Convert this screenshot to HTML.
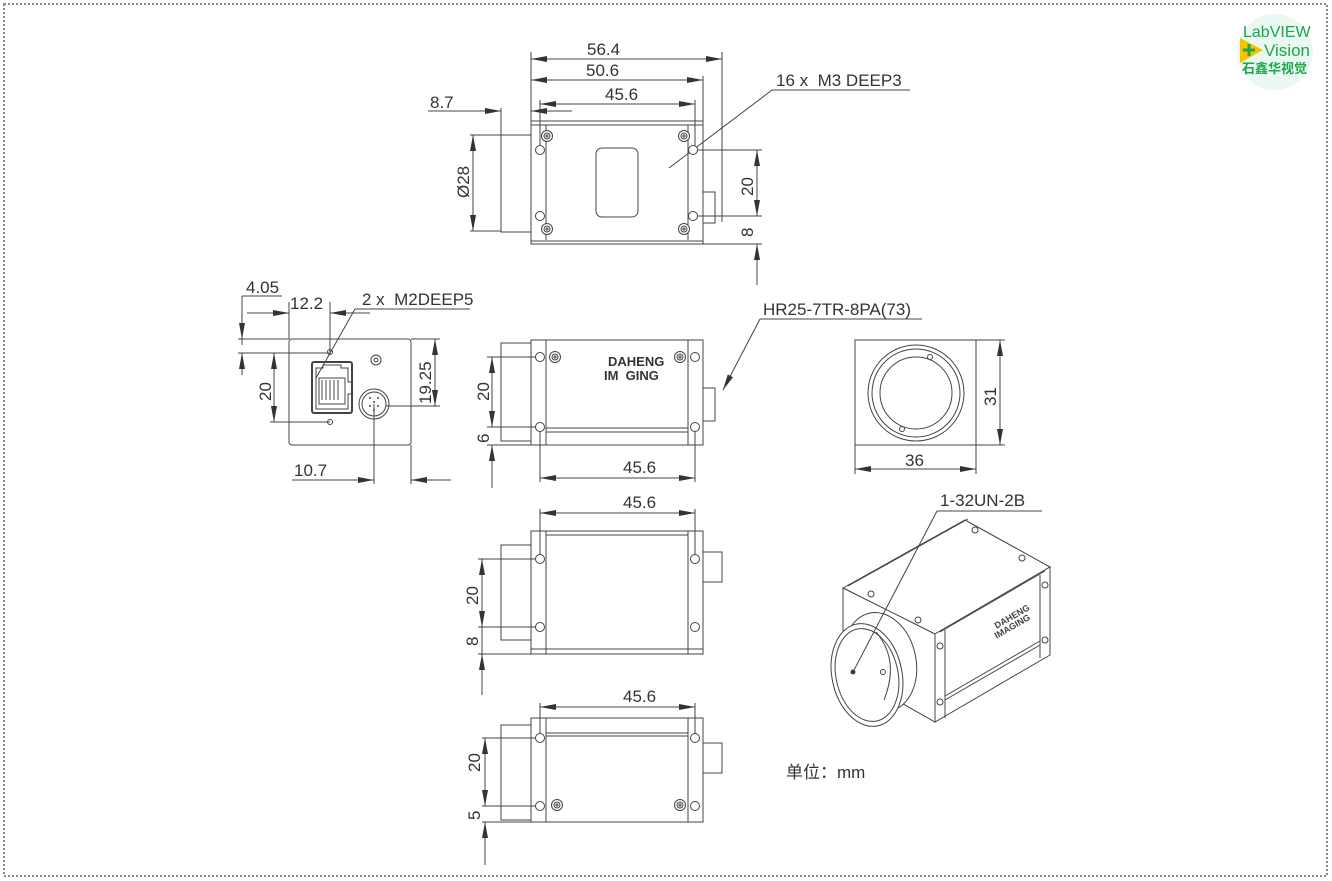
<!DOCTYPE html>
<html><head><meta charset="utf-8"><style>
html,body{margin:0;padding:0;background:#fff;}
svg{display:block;}
text{font-family:"Liberation Sans","Noto Sans CJK SC",sans-serif;fill:#333;}
</style></head><body>
<svg width="1332" height="881" viewBox="0 0 1332 881" xmlns="http://www.w3.org/2000/svg">
<defs>
<marker id="a" viewBox="0 0 16 6" refX="16" refY="3" markerWidth="16" markerHeight="6" markerUnits="userSpaceOnUse" orient="auto-start-reverse"><path d="M0,0L16,3L0,6z" fill="#333"/></marker>
<g id="hole"><circle r="4.5" fill="#fff" stroke="#444" stroke-width="1"/></g>
<g id="scr"><circle r="5.5" fill="#fff" stroke="#444"/><circle r="3" fill="none" stroke="#444"/><path d="M-2,0H2M0,-2V2" stroke="#444"/></g>
</defs>
<rect x="4" y="4" width="1323" height="872" fill="none" stroke="#888" stroke-width="2" stroke-dasharray="2,2"/>

<g stroke="#444" stroke-width="1" fill="none">
<rect x="531" y="121" width="172" height="123"/>
<line x1="531" y1="125" x2="703" y2="125"/><line x1="531" y1="241" x2="703" y2="241"/>
<path d="M546,125V240M688,125V240"/>
<rect x="501" y="135" width="30" height="97"/>
<rect x="703" y="192" width="12" height="31"/>
<rect x="596" y="148" width="42" height="69" rx="6"/>
<line x1="531" y1="59" x2="722" y2="59" marker-start="url(#a)" marker-end="url(#a)"/>
<line x1="531" y1="80" x2="703" y2="80" marker-start="url(#a)" marker-end="url(#a)"/>
<line x1="540" y1="104" x2="695" y2="104" marker-start="url(#a)" marker-end="url(#a)"/>
<path d="M531,52V121M722,52V222M703,76V121M540,100V148M695,100V148"/>
<line x1="428" y1="111" x2="501" y2="111" marker-end="url(#a)"/>
<line x1="572" y1="111" x2="531" y2="111" marker-end="url(#a)"/>
<path d="M501,108V135"/>
<line x1="473" y1="135" x2="473" y2="231" marker-start="url(#a)" marker-end="url(#a)"/>
<path d="M470,135H501M470,231H501"/>
<path d="M697,150H762M697,216H762M703,244H762"/>
<line x1="757" y1="150" x2="757" y2="216" marker-start="url(#a)" marker-end="url(#a)"/>
<line x1="757" y1="285" x2="757" y2="244" marker-end="url(#a)"/>
<path d="M772,90H910M772,90L669,168"/>

<rect x="289" y="339" width="122" height="106" rx="3"/>
<rect x="312" y="362" width="40" height="51" rx="2" stroke-width="2"/>
<path d="M316,368h7v-3h18v3h7v14h4v12h-4v15h-32z"/>
<path d="M319,378h26v26h-26z M322,380v20M326,380v20M330,380v20M334,380v20M338,380v20"/>
<circle cx="374" cy="404" r="15"/><circle cx="374" cy="404" r="12"/>
<circle cx="376" cy="360" r="5"/><circle cx="376" cy="360" r="2"/>
<circle cx="330" cy="352" r="2.5"/><circle cx="330" cy="422" r="2.5"/>
<path d="M242,296H282M242,296V345"/>
<line x1="242" y1="320" x2="242" y2="339" marker-end="url(#a)"/>
<line x1="242" y1="375" x2="242" y2="353" marker-end="url(#a)"/>
<path d="M238,339H289M238,353H330"/>
<path d="M289,302V339M330,302V352"/>
<line x1="247" y1="313" x2="289" y2="313" marker-end="url(#a)"/>
<line x1="370" y1="313" x2="330" y2="313" marker-end="url(#a)"/>
<path d="M355,309H470M355,309L316,378"/>
<line x1="274" y1="353" x2="274" y2="422" marker-start="url(#a)" marker-end="url(#a)"/>
<path d="M270,422H330"/>
<path d="M411,339H440M386,406H440"/>
<line x1="435" y1="339" x2="435" y2="406" marker-start="url(#a)" marker-end="url(#a)"/>
<path d="M374,404V484M411,445V484"/>
<line x1="292" y1="480" x2="374" y2="480" marker-end="url(#a)"/>
<line x1="451" y1="480" x2="411" y2="480" marker-end="url(#a)"/>

<rect x="531" y="340" width="172" height="105"/>
<path d="M546,340V445M688,340V445M546,428H688M546,432H688"/>
<rect x="501" y="343" width="30" height="98"/>
<rect x="703" y="388" width="12" height="33"/>
<line x1="492" y1="357" x2="492" y2="427" marker-start="url(#a)" marker-end="url(#a)"/>
<path d="M487,357H540M487,427H540M487,445H531"/>
<line x1="492" y1="488" x2="492" y2="445" marker-end="url(#a)"/>
<path d="M540,427V482M695,427V482"/>
<line x1="540" y1="478" x2="695" y2="478" marker-start="url(#a)" marker-end="url(#a)"/>
<path d="M760,319H922"/>
<line x1="760" y1="319" x2="723" y2="390" marker-end="url(#a)"/>

<rect x="855" y="340" width="121" height="105"/>
<circle cx="916" cy="393" r="48"/><circle cx="916" cy="393" r="44"/><circle cx="916" cy="393" r="36"/>
<circle cx="930" cy="357" r="2.5"/><circle cx="902" cy="429" r="2.5"/>
<path d="M976,340H1005M976,445H1005M855,445V474M976,445V474"/>
<line x1="1000" y1="340" x2="1000" y2="445" marker-start="url(#a)" marker-end="url(#a)"/>
<line x1="855" y1="469" x2="976" y2="469" marker-start="url(#a)" marker-end="url(#a)"/>

<rect x="531" y="531" width="172" height="123"/>
<path d="M546,531V654M688,531V654M546,535H688M531,649H703"/>
<rect x="501" y="545" width="30" height="95"/>
<rect x="703" y="552" width="19" height="30"/>
<path d="M540,509V559M695,509V559"/>
<line x1="540" y1="513" x2="695" y2="513" marker-start="url(#a)" marker-end="url(#a)"/>
<path d="M478,559H540M478,627H540M478,654H531"/>
<line x1="482" y1="559" x2="482" y2="627" marker-start="url(#a)" marker-end="url(#a)"/>
<line x1="482" y1="695" x2="482" y2="654" marker-end="url(#a)"/>
<path d="M482,627V654"/>

<rect x="531" y="718" width="172" height="104"/>
<path d="M546,718V822M688,718V822M546,733H688M546,736H688"/>
<rect x="501" y="725" width="30" height="95"/>
<rect x="703" y="743" width="19" height="30"/>
<path d="M540,703V738M695,703V738"/>
<line x1="540" y1="707" x2="695" y2="707" marker-start="url(#a)" marker-end="url(#a)"/>
<path d="M482,738H540M482,806H540M482,822H531"/>
<line x1="485" y1="738" x2="485" y2="806" marker-start="url(#a)" marker-end="url(#a)"/>
<line x1="485" y1="865" x2="485" y2="822" marker-end="url(#a)"/>

<path d="M843,588L965,520L1050,567L935,634Z" fill="#fff"/>
<path d="M935,634L1050,567L1050,655L935,722Z" fill="#fff"/>
<path d="M843,588L935,634L935,722L843,670Z" fill="#fff"/>
<path d="M848,586L968,519M940,632L1045,571M945,630V718M1040,575V658M945,700L1040,645M945,696L1040,641"/>
<circle cx="871" cy="594" r="3"/><circle cx="918" cy="620" r="3"/><circle cx="975" cy="530" r="3"/><circle cx="1022" cy="558" r="3"/>
<circle cx="940" cy="646" r="3"/><circle cx="940" cy="702" r="3"/><circle cx="1045" cy="585" r="3"/><circle cx="1045" cy="640" r="3"/>
<ellipse cx="880" cy="662" rx="36" ry="50" transform="rotate(-12 880 662)" fill="#fff"/>
<ellipse cx="867" cy="675" rx="35" ry="52" transform="rotate(-12 867 675)" fill="#fff"/>
<ellipse cx="867" cy="675" rx="31" ry="47" transform="rotate(-12 867 675)"/>
<path d="M876,632Q900,660 884,700"/>
<circle cx="883" cy="672" r="2.5"/>
<path d="M937,511H1042M937,511L853,672"/>
<circle cx="853" cy="672" r="2" fill="#333"/>
</g>
<g fill="#444">
<circle cx="370" cy="398" r="1"/><circle cx="378" cy="398" r="1"/><circle cx="374" cy="402" r="1"/><circle cx="370" cy="406" r="1"/><circle cx="378" cy="406" r="1"/><circle cx="374" cy="410" r="1"/>
</g>

<g>
<use href="#hole" x="540" y="150"/><use href="#hole" x="540" y="216"/><use href="#hole" x="693" y="150"/><use href="#hole" x="693" y="216"/>
<use href="#scr" x="547" y="136"/><use href="#scr" x="547" y="229"/><use href="#scr" x="684" y="136"/><use href="#scr" x="684" y="229"/>
<use href="#hole" x="540" y="357"/><use href="#hole" x="540" y="427"/><use href="#hole" x="695" y="357"/><use href="#hole" x="695" y="427"/>
<use href="#scr" x="555" y="357"/><use href="#scr" x="680" y="357"/>
<use href="#hole" x="540" y="559"/><use href="#hole" x="540" y="627"/><use href="#hole" x="695" y="559"/><use href="#hole" x="695" y="627"/>
<use href="#hole" x="540" y="738"/><use href="#hole" x="540" y="806"/><use href="#hole" x="695" y="738"/><use href="#hole" x="695" y="806"/>
<use href="#scr" x="557" y="805"/><use href="#scr" x="680" y="805"/>
</g>
<text x="608" y="366" font-size="13" font-weight="bold" style="fill:#333">DAHENG</text>
<text x="604" y="380" font-size="13" font-weight="bold" style="fill:#333">IM&#160;&#160;GING</text>
<text x="990" y="620" font-size="9" font-weight="bold" transform="rotate(-30 1010 612)" style="fill:#444">DAHENG</text>
<text x="990" y="630" font-size="9" font-weight="bold" transform="rotate(-30 1010 622)" style="fill:#444">IMAGING</text>

<g font-size="17">
<text x="587" y="55">56.4</text>
<text x="586" y="76">50.6</text>
<text x="605" y="100">45.6</text>
<text x="430" y="108">8.7</text>
<text x="776" y="86">16 x&#160;&#160;M3 DEEP3</text>
<text transform="translate(469,198) rotate(-90)">Ø28</text>
<text transform="translate(753,196) rotate(-90)">20</text>
<text transform="translate(753,237) rotate(-90)">8</text>
<text x="246" y="293">4.05</text>
<text x="290" y="309">12.2</text>
<text x="362" y="305">2 x&#160;&#160;M2DEEP5</text>
<text transform="translate(271,401) rotate(-90)">20</text>
<text transform="translate(431,404) rotate(-90)">19.25</text>
<text x="294" y="476">10.7</text>
<text transform="translate(489,401) rotate(-90)">20</text>
<text transform="translate(489,443) rotate(-90)">6</text>
<text x="623" y="473">45.6</text>
<text x="763" y="315">HR25-7TR-8PA(73)</text>
<text transform="translate(996,406) rotate(-90)">31</text>
<text x="905" y="466">36</text>
<text x="623" y="508">45.6</text>
<text transform="translate(478,605) rotate(-90)">20</text>
<text transform="translate(478,646) rotate(-90)">8</text>
<text x="623" y="702">45.6</text>
<text transform="translate(480,772) rotate(-90)">20</text>
<text transform="translate(480,820) rotate(-90)">5</text>
<text x="940" y="506">1-32UN-2B</text>
<text x="786" y="778">单位：mm</text>
</g>

<circle cx="1275" cy="52" r="38" fill="#e9f8f1"/>
<path d="M1240,38L1263,50L1240,63Z" fill="#f6c200"/>
<text x="1243" y="37" font-size="16" style="fill:#1ea64a">LabVIEW</text>
<path d="M1243,50h12M1249,44v12" stroke="#1ea64a" stroke-width="3"/>
<text x="1264" y="56" font-size="17" style="fill:#1ea64a">Vision</text>
<text x="1242" y="73" font-size="13" font-weight="bold" style="fill:#1ea64a">石鑫华视觉</text>
</svg>
</body></html>
